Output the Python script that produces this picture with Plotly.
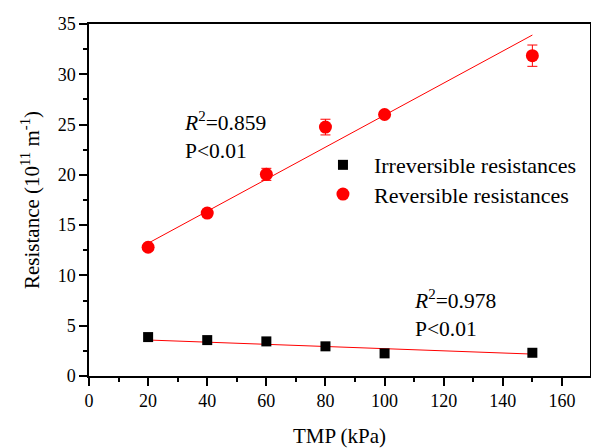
import plotly.graph_objects as go

tmp = [20, 40, 60, 80, 100, 150]
irreversible = [3.87, 3.57, 3.44, 2.95, 2.25, 2.31]
irreversible_err = [0.15, 0.15, 0.15, 0.15, 0.15, 0.15]
reversible = [12.8, 16.2, 20.05, 24.75, 26.0, 31.85]
reversible_err = [0.3, 0.35, 0.6, 0.78, 0.3, 1.06]
fit_x = [20, 150]
fit_irr = [3.58, 2.18]
fit_rev = [13.2, 33.9]
series_names = ["Irreversible resistances", "Reversible resistances"]

FONT = "Liberation Serif, Times New Roman, serif"

fig = go.Figure()
fig.add_trace(go.Scatter(x=fit_x, y=fit_irr, mode="lines",
                         line=dict(color="#ff0000", width=1), showlegend=False))
fig.add_trace(go.Scatter(x=fit_x, y=fit_rev, mode="lines",
                         line=dict(color="#ff0000", width=1), showlegend=False))
fig.add_trace(go.Scatter(x=tmp, y=irreversible, mode="markers", name="&nbsp;&nbsp;" + series_names[0],
                         legend="legend",
                         marker=dict(symbol="square", size=10, color="black"),
                         error_y=dict(type="data", array=irreversible_err, color="black",
                                      thickness=1, width=4)))
fig.add_trace(go.Scatter(x=tmp, y=reversible, mode="markers", name="&nbsp;&nbsp;" + series_names[1],
                         legend="legend2",
                         marker=dict(symbol="circle", size=13, color="#ff0000"),
                         error_y=dict(type="data", array=reversible_err, color="#ff0000",
                                      thickness=1, width=5)))

axis_common = dict(showline=True, linecolor="black", linewidth=1.5, mirror=True,
                   showgrid=False, zeroline=False, ticks="outside", ticklen=8,
                   tickwidth=1.5, tickcolor="black", automargin=False,
                   tickfont=dict(family=FONT, size=18, color="black"))

fig.update_xaxes(range=[0, 169.5], tickvals=[0, 20, 40, 60, 80, 100, 120, 140, 160],
                 minor=dict(ticks="outside", ticklen=4, tickwidth=1.5, tickcolor="black", dtick=10),
                 title=dict(text="TMP (kPa)", font=dict(family=FONT, size=21, color="black"), standoff=18),
                 **axis_common)
fig.update_yaxes(range=[0, 35], tickvals=[0, 5, 10, 15, 20, 25, 30, 35],
                 minor=dict(ticks="outside", ticklen=4, tickwidth=1.5, tickcolor="black", dtick=2.5),
                 title=dict(text="Resistance (10<sup>11</sup> m<sup>-1</sup>)",
                            font=dict(family=FONT, size=21, color="black"), standoff=12),
                 **axis_common)

fig.add_annotation(x=31.5, y=26.85, xref="x", yref="y", xanchor="left", yanchor="top",
                   text="<i>R</i><sup>2</sup>=0.859<br>P&lt;0.01", showarrow=False, align="left",
                   font=dict(family=FONT, size=21.5, color="black"))
fig.add_annotation(x=109.3, y=9.15, xref="x", yref="y", xanchor="left", yanchor="top",
                   text="<i>R</i><sup>2</sup>=0.978<br>P&lt;0.01", showarrow=False, align="left",
                   font=dict(family=FONT, size=21.5, color="black"))

legend_common = dict(xanchor="left", yanchor="top",
                     font=dict(family=FONT, size=22, color="black"),
                     bgcolor="rgba(0,0,0,0)", itemsizing="trace")

fig.update_layout(
    width=591, height=448,
    margin=dict(l=89, r=1, t=24, b=72, autoexpand=False),
    paper_bgcolor="white", plot_bgcolor="white",
    legend=dict(x=0.467, y=0.659, **legend_common),
    legend2=dict(x=0.467, y=0.576, **legend_common),
    font=dict(family=FONT, color="black"),
)

fig.write_html("out.html", config={"displayModeBar": False},
               post_script="document.body.style.margin='0';document.body.style.overflow='hidden';")
